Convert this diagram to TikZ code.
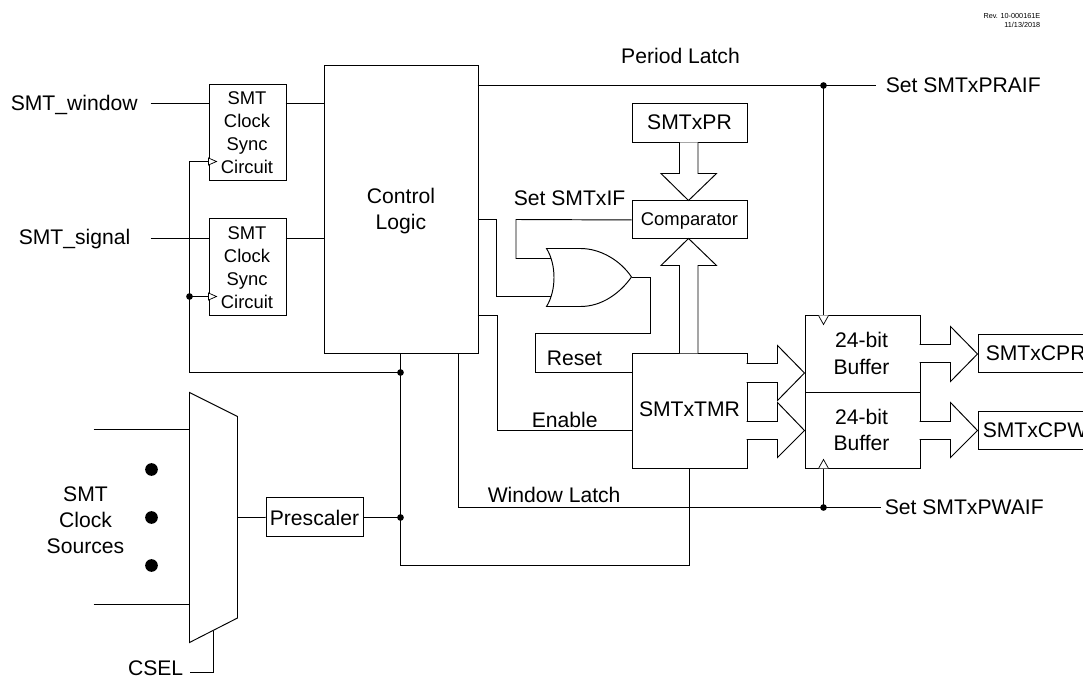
\documentclass[tikz,border=0pt]{standalone}
\usepackage{fontspec}
\setmainfont{Liberation Sans}
\newcommand{\fbig}{\fontsize{15.85}{19}\selectfont}
\newcommand{\fsmall}{\fontsize{13.8}{16.5}\selectfont}
\newcommand{\ftiny}{\fontsize{5.45}{6.9}\selectfont}
\tikzset{
  line/.style={draw=black,line width=0.72pt,line join=miter},
  boxn/.style={draw=black,line width=0.72pt,fill=white,inner sep=0pt,align=center,anchor=north west},
  lab/.style={inner sep=0pt,font=\fbig},
  dotn/.style={circle,fill=black,inner sep=0pt,minimum size=5pt},
  bigdot/.style={circle,fill=black,inner sep=0pt,minimum size=9.5pt},
  blockarrow/.style={draw=black,line width=0.72pt,fill=white,line join=miter},
  clocktip/.style={draw=black,line width=0.55pt,fill=white}
}
\newcommand{\mybox}[6]{% name, x, y, w, h, text
  \node[boxn,minimum width=#4*0.75pt,minimum height=#5*0.75pt] (#1) at (#2,#3) {#6};}
\begin{document}
\begin{tikzpicture}[x=0.75pt,y=-0.75pt]
\useasboundingbox (0,0) rectangle (1083,677);
\clip (0,0) rectangle (1083,677);
\begin{scope}[shift={(0.5,0.5)}]
% --- rev
\node[inner sep=0pt,anchor=north east,align=right,font=\ftiny] (rev) at (1040,12.5) {Rev. 10-000161E\\11/13/2018};
% --- boxes
\mybox{syncA}{208}{84}{77}{96}{}
\mybox{syncB}{208}{218}{77}{97}{}
\mybox{ctrl}{323}{65}{154}{288}{}
\mybox{pr}{631}{103}{115}{39}{}
\mybox{comp}{631}{200}{115}{38}{}
\mybox{tmr}{631}{353}{115}{115}{}
\mybox{bufA}{804}{315}{115}{77}{}
\mybox{bufB}{804}{392}{115}{76}{}
\mybox{cpr}{977}{334}{130}{38}{}
\mybox{cpw}{977}{411}{130}{38}{}
\mybox{pres}{265}{497}{97}{39}{}
% --- coordinates
\coordinate (wst) at (150,103);
\coordinate (sst) at (150,238);
\coordinate (clkTop) at (189,161);
\coordinate (clkMid) at (189,296);
\coordinate (clkBot) at (189,372);
\coordinate (jA) at (400,372);
\coordinate (jB) at (400,517);
\coordinate (jC) at (400,565);
\coordinate (jD) at (688.5,565);
\coordinate (perJ) at (823,85);
\coordinate (perE) at (875,85);
\coordinate (winJ) at (823,507);
\coordinate (winE) at (880,507);
\coordinate (winL) at (458,507);
\coordinate (orTip) at (631,276.5);
% --- mux
\coordinate (m1) at (189,392); \coordinate (m2) at (237,416);
\coordinate (m3) at (237,617.5); \coordinate (m4) at (189,642);
\draw[line,fill=white] (m1) -- (m2) -- (m3) -- (m4) -- cycle;
\coordinate (inA) at (93,429); \coordinate (inB) at (93,604);
\coordinate (csA) at (213,630); \coordinate (csB) at (213,672); \coordinate (csC) at (189,672);
\draw[line] (inA) -- (189,429);
\draw[line] (inB) -- (189,604);
\draw[line] (csA) -- (csB) -- (csC);
\draw[line] (237,517) -- (pres.west);
\draw[line] (pres.east) -- (jB);
\node[bigdot] (d1) at (151,469) {};
\node[bigdot] (d2) at (151,517) {};
\node[bigdot] (d3) at (151,565) {};
% --- left connectors
\draw[line] (wst) -- (208,103);
\draw[line] (285,103) -- (323,103);
\draw[line] (sst) -- (208,238);
\draw[line] (285,238) -- (323,238);
\draw[line] (clkTop) -- (208,161);
\draw[line] (clkTop) -- (clkBot) -- (jA);
\draw[line] (clkMid) -- (208,296);
\draw[clocktip] (208,157.5) -- (216,161) -- (208,164.5) -- cycle;
\draw[clocktip] (208,292.5) -- (216,296) -- (208,299.5) -- cycle;
\draw[line] (400,353) -- (jC) -- (jD) -- (688.5,468);
% --- top / bottom latches
\draw[line] (477,85) -- (perE);
\draw[line] (perJ) -- (823,315);
\draw[line] (458,353) -- (winL) -- (winE);
\draw[line] (823,468) -- (winJ);
\draw[clocktip] (818,315) -- (823,324) -- (828,315);
\draw[clocktip] (818,468) -- (823,459) -- (828,468);
% --- OR gate
\draw[line] (477,219) -- (496,219) -- (496,296) -- (551,296);
\draw[line] (comp.west) -- (515.5,219) -- (515.5,258) -- (551,258);
\draw[line,fill=white] (546,248) -- (580,248) .. controls (600,248) and (620,260) .. (orTip)
  .. controls (620,292) and (602,306) .. (580,306) -- (546,306)
  .. controls (556,290) and (556,264) .. (546,248) -- cycle;
\draw[line] (orTip) -- (650,276.5) -- (650,333) -- (535,333) -- (535,372) -- (631,372);
\draw[line] (477,315) -- (497,315) -- (497,430) -- (631,430);
% --- block arrows
\draw[blockarrow] (679,142) -- (679,173) -- (660.5,173) -- (688,200) -- (716,173) -- (697.5,173) -- (697.5,142);
\draw[blockarrow] (679,353) -- (679,265) -- (660.5,265) -- (688,238) -- (716,265) -- (697.5,265) -- (697.5,353);
\draw[blockarrow] (746,363) -- (777,363) -- (777,345) -- (804,372.5) -- (777,400) -- (777,382) -- (746,382);
\draw[blockarrow] (746,421) -- (777,421) -- (777,402) -- (804,430) -- (777,457) -- (777,439) -- (746,439);
\draw[blockarrow] (919,344) -- (950,344) -- (950,326) -- (977,353.5) -- (950,381) -- (950,362) -- (919,362);
\draw[blockarrow] (919,421) -- (950,421) -- (950,402) -- (977,430) -- (950,457) -- (950,439) -- (919,439);
% --- dots
\node[dotn] (dotClk) at (clkMid) {};
\node[dotn] (dotA) at (jA) {};
\node[dotn] (dotB) at (jB) {};
\node[dotn] (dotP) at (perJ) {};
\node[dotn] (dotW) at (winJ) {};
% --- labels
\node[lab,anchor=west] (t1) at (10,104) {SMT\_window};
\node[lab,anchor=west] (t2) at (18,239) {SMT\_signal};
\node[lab,align=center] (t3) at (85,520) {SMT\\[0.5pt]Clock\\[0.5pt]Sources};
\node[lab,anchor=east] (t4) at (183,668) {CSEL};
\node[lab] (t5) at (680,55) {Period Latch};
\node[lab,anchor=west] (t6) at (885,85) {Set SMTxPRAIF};
\node[lab,anchor=west] (t7) at (884,507) {Set SMTxPWAIF};
\node[lab,anchor=west] (t8) at (513,198) {Set SMTxIF};
\node[lab,anchor=west] (t9) at (546,358) {Reset};
\node[lab,anchor=west] (t10) at (531,419) {Enable};
\node[lab,anchor=west] (t11) at (487,494) {Window Latch};
\node[lab,align=center] (t12) at (ctrl.center |- 0,210.5) {Control\\[1pt]Logic};
\node[lab] (t13) at (689,122) {SMTxPR};
\node[lab,font=\fsmall] (t14) at (689,220) {Comparator};
\node[lab] (t15) at (689,409) {SMTxTMR};
\node[lab,align=center] (t16) at (861,353) {24-bit\\[1pt]Buffer};
\node[lab,align=center] (t17) at (861,429.5) {24-bit\\[0.5pt]Buffer};
\node[lab,anchor=west] (t18) at (985,353) {SMTxCPR};
\node[lab,anchor=west] (t19) at (982,430) {SMTxCPW};
\node[lab] (t20) at (pres.center) {Prescaler};
\node[lab,font=\fsmall,align=center] (t21) at (246.5,132.5) {SMT\\[0.8pt]Clock\\[0.8pt]Sync\\[0.8pt]Circuit};
\node[lab,font=\fsmall,align=center] (t22) at (246.5,267.5) {SMT\\[0.8pt]Clock\\[0.8pt]Sync\\[0.8pt]Circuit};
\end{scope}
\end{tikzpicture}
\end{document}
